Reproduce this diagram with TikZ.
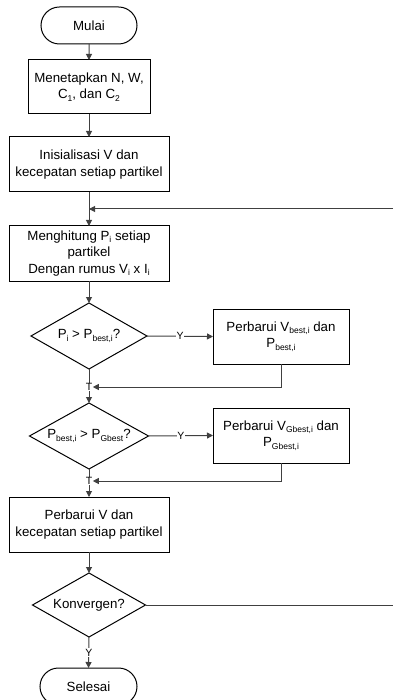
\documentclass[tikz,border=0pt]{standalone}
\usepackage{fontspec}
\setmainfont{Liberation Sans}
\usetikzlibrary{shapes.misc,arrows.meta}
\newcommand\sbs[1]{\raisebox{-0.35ex}{\fontsize{8.5}{8.5}\selectfont #1}}
\begin{document}
\begin{tikzpicture}[x=1pt,y=-1pt,
  every node/.style={font=\fontsize{13.3}{16.5}\selectfont, outer sep=0pt},
  term/.style={draw, line width=1pt, rounded rectangle, minimum width=96pt, minimum height=37pt, inner sep=0pt},
  proc/.style={draw, line width=1pt, align=center, inner sep=0pt},
  dia/.style={inner sep=0pt, align=center},
  diaborder/.style={line width=1pt},
  conn/.style={line width=1pt, draw=black!75},
  arr/.style={conn, -{Triangle[length=6pt,width=6pt]}},
  lbl/.style={font=\fontsize{10.5}{10.5}\selectfont, fill=white, inner sep=0.6pt}
]
\useasboundingbox (0,0) rectangle (393,700);
\clip (0,0) rectangle (393,700);

\node[term] (start) at (89,25.5) {Mulai};
\node[proc, minimum width=122pt, minimum height=54pt] (b1) at (89,87) {Menetapkan N, W,\\C\sbs{1}, dan C\sbs{2}};
\node[proc, minimum width=160pt, minimum height=55pt] (b2) at (89,164.5) {Inisialisasi V dan\\kecepatan setiap partikel};
\node[proc, minimum width=160pt, minimum height=55pt] (b3) at (89,253.5) {Menghitung P\sbs{i} setiap\\partikel\\Dengan rumus V\sbs{i} x I\sbs{i}};
\node[dia, minimum width=116pt, minimum height=66pt] (d1) at (89,336) {P\sbs{i} {>} P\sbs{best,i}?};
\node[proc, minimum width=136pt, minimum height=55pt] (b4) at (281,336.5) {Perbarui V\sbs{best,i} dan\\P\sbs{best,i}};
\node[dia, minimum width=119pt, minimum height=66pt] (d2) at (89,436) {P\sbs{best,i} {>} P\sbs{Gbest}?};
\node[proc, minimum width=136pt, minimum height=55pt] (b5) at (281,435.5) {Perbarui V\sbs{Gbest,i} dan\\P\sbs{Gbest,i}};
\node[proc, minimum width=160pt, minimum height=55pt] (b6) at (89,524.5) {Perbarui V dan\\kecepatan setiap partikel};
\node[dia, minimum width=113pt, minimum height=64pt] (d3) at (89,605) {Konvergen?};
\node[term, minimum width=97pt] (stop) at (88.5,686.5) {Selesai};

\foreach \d in {d1,d2,d3}
  \draw[diaborder] (\d.north) -- (\d.east) -- (\d.south) -- (\d.west) -- cycle;

\coordinate (j0) at (89,209);
\coordinate (r0) at (393,209);
\coordinate (r3) at (393,605);

\draw[arr] (start) -- (b1);
\draw[arr] (b1) -- (b2);
\draw[arr] (b2) -- (b3);
\draw[arr] (r0) -- (j0);
\draw[arr] (b3) -- (d1.north);
\draw[arr] (d1.east) -- node[lbl]{Y} (b4.west);
\draw[arr] (d1.south) -- (d2.north);
\node[lbl] (t1) at (89,387) {T};
\draw[arr] (b4.south) |- (t1.east);
\draw[arr] (d2.east) -- node[lbl]{Y} (b5.west);
\draw[arr] (d2.south) -- (b6.north);
\node[lbl] (t2) at (89,481) {T};
\draw[arr] (b5.south) |- (t2.east);
\draw[arr] (b6) -- (d3.north);
\draw[conn] (d3.east) -- (r3);
\draw[arr] (d3.south) -- node[lbl]{Y} (stop.north);
\end{tikzpicture}
\end{document}
